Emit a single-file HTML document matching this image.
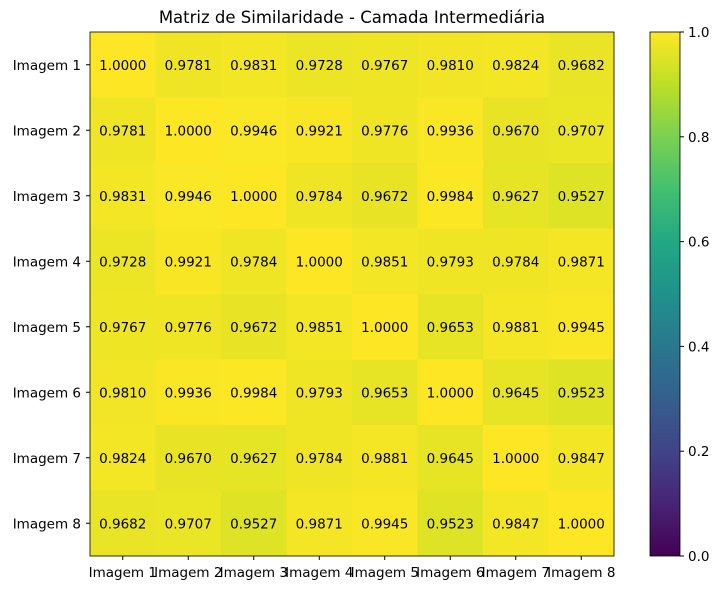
<!DOCTYPE html>
<html><head><meta charset="utf-8">
<style>
html,body{margin:0;padding:0;background:#fff;width:718px;height:590px;overflow:hidden}
svg text{font-family:"DejaVu Sans","Liberation Sans",sans-serif;fill:#000}
</style></head>
<body>
<svg id="chart" width="718" height="590" xmlns="http://www.w3.org/2000/svg">
<defs>
<linearGradient id="vir" x1="0" y1="1" x2="0" y2="0">
<stop offset="0" stop-color="#440154"/><stop offset="0.1" stop-color="#482475"/><stop offset="0.2" stop-color="#414487"/><stop offset="0.3" stop-color="#355f8d"/><stop offset="0.4" stop-color="#2a788e"/><stop offset="0.5" stop-color="#21918c"/><stop offset="0.6" stop-color="#22a884"/><stop offset="0.7" stop-color="#44bf70"/><stop offset="0.8" stop-color="#7ad151"/><stop offset="0.9" stop-color="#bddf26"/><stop offset="1" stop-color="#fde725"/>
</linearGradient>
</defs>
<text x="352" y="23" font-size="16.5" text-anchor="middle">Matriz de Similaridade - Camada Intermediária</text>
<g id="cells"></g>
<rect x="650" y="32" width="30" height="524" fill="url(#vir)" stroke="#000" stroke-width="0.8"/>
<g id="cbticks"></g>
</svg>
<script>
const labels = ["Imagem 1","Imagem 2","Imagem 3","Imagem 4","Imagem 5","Imagem 6","Imagem 7","Imagem 8"];
const matrix = [
[1.0000,0.9781,0.9831,0.9728,0.9767,0.9810,0.9824,0.9682],
[0.9781,1.0000,0.9946,0.9921,0.9776,0.9936,0.9670,0.9707],
[0.9831,0.9946,1.0000,0.9784,0.9672,0.9984,0.9627,0.9527],
[0.9728,0.9921,0.9784,1.0000,0.9851,0.9793,0.9784,0.9871],
[0.9767,0.9776,0.9672,0.9851,1.0000,0.9653,0.9881,0.9945],
[0.9810,0.9936,0.9984,0.9793,0.9653,1.0000,0.9645,0.9523],
[0.9824,0.9670,0.9627,0.9784,0.9881,0.9645,1.0000,0.9847],
[0.9682,0.9707,0.9527,0.9871,0.9945,0.9523,0.9847,1.0000]];
const cbTicks = [0.0,0.2,0.4,0.6,0.8,1.0];
const NS="http://www.w3.org/2000/svg";
const X0=90,Y0=32,W=524,H=524,n=labels.length,cw=W/n,ch=H/n;
const CBY0=32,CBH=524;
const stops=[[68,1,84],[72,36,117],[65,68,135],[53,95,141],[42,120,142],[33,145,140],[34,168,132],[68,191,112],[122,209,81],[189,223,38],[253,231,37]];
function color(v){v=Math.max(0,Math.min(1,v));const p=v*10,i=Math.min(9,Math.floor(p)),t=p-i;const a=stops[i],b=stops[i+1];return `rgb(${a.map((c,k)=>Math.round(c+(b[k]-c)*t)).join(",")})`;}
function xs(j){return X0+j*cw;} function ys(i){return Y0+i*ch;}
function cby(v){return CBY0+CBH*(1-v);}
function el(tag,attrs,parent){const e=document.createElementNS(NS,tag);for(const k in attrs)e.setAttribute(k,attrs[k]);parent.appendChild(e);return e;}
const g=document.getElementById("cells"),cb=document.getElementById("cbticks");
matrix.forEach((row,i)=>row.forEach((v,j)=>{
 const r=el("rect",{x:xs(j),y:ys(i),width:cw+0.5,height:ch+0.5,fill:color(v)},g);
 
 
 const t=el("text",{x:xs(j)+cw/2,y:ys(i)+ch/2+5,"font-size":13.5,"text-anchor":"middle"},g);
 
 
 t.textContent=v.toFixed(4);
}));
const fr=el("rect",{x:X0,y:Y0,width:W,height:H,fill:"none",stroke:"#000","stroke-width":0.8},g);


labels.forEach((l,k)=>{
 el("line",{x1:xs(k)+cw/2,x2:xs(k)+cw/2,y1:Y0+H,y2:Y0+H+4,stroke:"#000"},g);
 const tx=el("text",{x:xs(k)+cw/2,y:Y0+H+21,"font-size":13.5,"text-anchor":"middle"},g);
 
 
 tx.textContent=l;
 el("line",{x1:X0-4,x2:X0,y1:ys(k)+ch/2,y2:ys(k)+ch/2,stroke:"#000"},g);
 const ty=el("text",{x:X0-9,y:ys(k)+ch/2+5,"font-size":13.5,"text-anchor":"end"},g);
 
 
 ty.textContent=l;
});
cbTicks.forEach(v=>{
 el("line",{x1:680,x2:684,y1:cby(v),y2:cby(v),stroke:"#000"},cb);
 const t=el("text",{x:688,y:cby(v)+5,"font-size":13.5},cb);
 
 
 t.textContent=v.toFixed(1);
});
</script>
</body></html>
